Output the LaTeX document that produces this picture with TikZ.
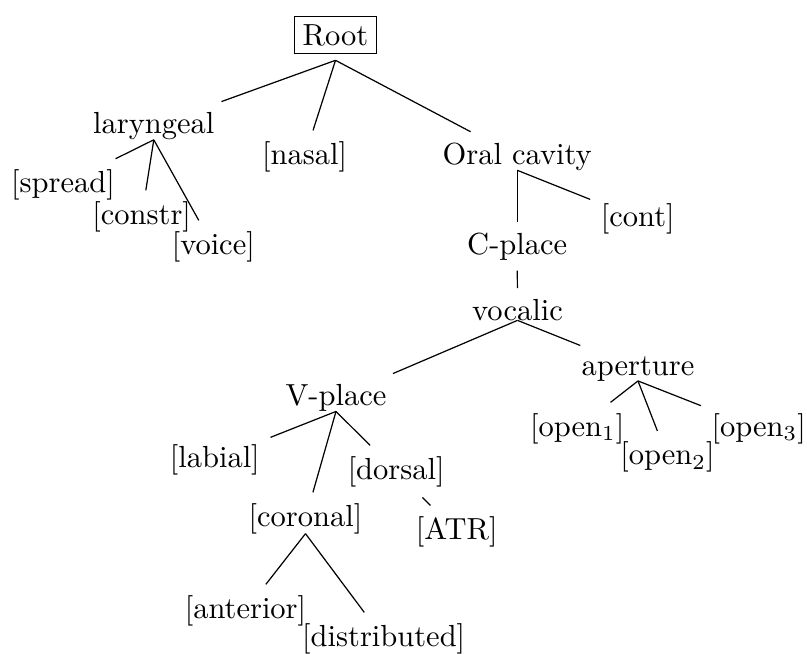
\documentclass[tikz,border=0pt]{standalone}
\begin{document}
\begin{tikzpicture}[x=0.32787pt,y=-0.32787pt,
  tn/.style={anchor=base},
  rootbox/.style={anchor=base,draw,inner sep=2.6pt},
  branch/.style={line width=0.4pt}]
\useasboundingbox (0,0) rectangle (807,653);
% nodes (x = centre, y = baseline, in pixels)
\node[rootbox] (root) at (335.5,45) {Root};
\node[tn] (laryngeal) at (153.8,133.5) {laryngeal};
\node[tn] (nasal) at (304.7,164) {[nasal]};
\node[tn] (oral) at (517.2,164) {Oral cavity};
\node[tn] (spread) at (63,192.4) {[spread]};
\node[tn] (constr) at (141.7,224) {[constr]};
\node[tn] (voice) at (213.3,254) {[voice]};
\node[tn] (cont) at (637.8,226) {[cont]};
\node[tn] (cplace) at (517.2,254) {C-place};
\node[tn] (vocalic) at (517.5,320) {vocalic};
\node[tn] (vplace) at (336,405.5) {V-place};
\node[tn] (aperture) at (638,375) {aperture};
\node[tn] (open1) at (577.2,436) {[open$_1$]};
\node[tn] (open2) at (667.5,464.6) {[open$_2$]};
\node[tn] (open3) at (758.7,436) {[open$_3$]};
\node[tn] (labial) at (214.8,467) {[labial]};
\node[tn] (dorsal) at (396.2,479) {[dorsal]};
\node[tn] (coronal) at (305.5,526) {[coronal]};
\node[tn] (atr) at (456.7,539) {[ATR]};
\node[tn] (anterior) at (245.5,618) {[anterior]};
\node[tn] (distributed) at (383.7,646) {[distributed]};
% branches
\draw[branch] ([yshift=-2pt]root.south) -- (laryngeal);
\draw[branch] ([yshift=-2pt]root.south) -- (nasal);
\draw[branch] ([yshift=-2pt]root.south) -- (oral);
\draw[branch] ([yshift=3.53pt]laryngeal.south) -- (spread);
\draw[branch] ([yshift=3.53pt]laryngeal.south) -- (constr);
\draw[branch] ([yshift=3.53pt]laryngeal.south) -- (voice);
\draw[branch] ([yshift=3.53pt]oral.south) -- (cplace);
\draw[branch] ([yshift=3.53pt]oral.south) -- (cont);
\draw[branch] (cplace) -- (vocalic);
\draw[branch] ([yshift=3.53pt]vocalic.south) -- (vplace);
\draw[branch] ([yshift=3.53pt]vocalic.south) -- (aperture);
\draw[branch] ([yshift=3.53pt]aperture.south) -- (open1);
\draw[branch] ([yshift=3.53pt]aperture.south) -- (open2);
\draw[branch] ([yshift=3.53pt]aperture.south) -- (open3);
\draw[branch] ([yshift=3.53pt]vplace.south) -- (labial);
\draw[branch] ([yshift=3.53pt]vplace.south) -- (coronal);
\draw[branch] ([yshift=3.53pt]vplace.south) -- (dorsal);
\draw[branch] (dorsal) -- (atr);
\draw[branch] ([yshift=3.53pt]coronal.south) -- (anterior);
\draw[branch] ([yshift=3.53pt]coronal.south) -- (distributed);
\end{tikzpicture}
\end{document}
